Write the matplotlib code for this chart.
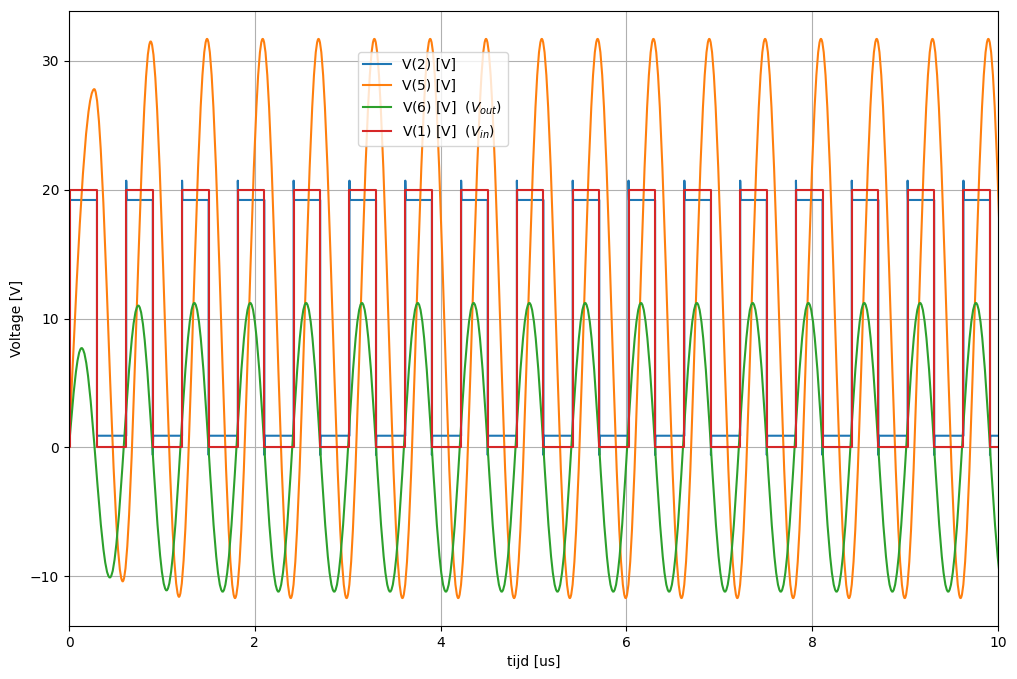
import numpy as np
import matplotlib.pyplot as plt
from matplotlib.path import Path
from matplotlib.patches import PathPatch
from matplotlib.lines import Line2D

# V(1) input pulse: switching times [us]
vin_rise = [0.015, 0.616, 1.217, 1.817, 2.418, 3.019, 3.620, 4.221, 4.821,
            5.422, 6.023, 6.624, 7.225, 7.825, 8.426, 9.027, 9.628]
vin_fall = [0.301, 0.902, 1.503, 2.103, 2.704, 3.305, 3.906, 4.507, 5.107,
            5.708, 6.309, 6.910, 7.511, 8.111, 8.712, 9.313, 9.914]
vin_low, vin_high = 0.0, 20.0

# V(2): plateau levels and switching over/undershoot [V]
v2_low, v2_high = 0.9, 19.2
v2_spike, v2_dip = 20.7, -0.6

# V(5): turning points (time [us], voltage [V])
v5_t = [0.0, 0.272, 0.578, 0.879, 1.184, 1.486, 1.787, 2.085, 2.387, 2.686,
        2.988, 3.287, 3.589, 3.888, 4.190, 4.489, 4.791, 5.089, 5.391, 5.690,
        5.992, 6.291, 6.593, 6.892, 7.194, 7.493, 7.795, 8.094, 8.396, 8.694,
        8.996, 9.295, 9.597, 9.896, 10.198]
v5_v = [0.0, 27.8, -10.4, 31.5, -11.6, 31.7, -11.7, 31.7, -11.7, 31.7,
        -11.7, 31.7, -11.7, 31.7, -11.7, 31.7, -11.7, 31.7, -11.7, 31.7,
        -11.7, 31.7, -11.7, 31.7, -11.7, 31.7, -11.7, 31.7, -11.7, 31.7,
        -11.7, 31.7, -11.7, 31.7, -11.7]

# V(6) = Vout: turning points (time [us], voltage [V])
v6_t = [0.0, 0.136, 0.440, 0.746, 1.050, 1.349, 1.654, 1.951, 2.254, 2.552,
        2.855, 3.153, 3.456, 3.754, 4.057, 4.355, 4.658, 4.955, 5.258, 5.556,
        5.859, 6.157, 6.460, 6.758, 7.061, 7.359, 7.662, 7.959, 8.262, 8.560,
        8.863, 9.161, 9.464, 9.762, 10.065]
v6_v = [0.0, 7.7, -10.1, 11.0, -11.1, 11.2, -11.2, 11.2, -11.2, 11.2,
        -11.2, 11.2, -11.2, 11.2, -11.2, 11.2, -11.2, 11.2, -11.2, 11.2,
        -11.2, 11.2, -11.2, 11.2, -11.2, 11.2, -11.2, 11.2, -11.2, 11.2,
        -11.2, 11.2, -11.2, 11.2, -11.2]

labels = ["V(2) [V]", "V(5) [V]", r"V(6) [V]  ($V_{out}$)", r"V(1) [V]  ($V_{in}$)"]
colors = ["C0", "C1", "C2", "C3"]


def smooth_path(t, v):
    """Bezier path through the turning points (flat tangent at each extremum)"""
    verts = [(t[0], v[0])]
    codes = [Path.MOVETO]
    for i in range(1, len(t)):
        x0, y0, x1, y1 = t[i-1], v[i-1], t[i], v[i]
        w = x1 - x0
        if i == 1:  # start of the transient, not an extremum
            c1 = (x0 + 0.334*w, y0 + 0.525*(y1 - y0))
            c2 = (x0 + 0.640*w, y1)
        else:
            c1 = (x0 + 0.3634*w, y0)
            c2 = (x1 - 0.3634*w, y1)
        verts += [c1, c2, (x1, y1)]
        codes += [Path.CURVE4]*3
    return Path(verts, codes)


# square wave V(1)
t1, y1 = [0.0], [vin_low]
for r, f in zip(vin_rise, vin_fall):
    t1 += [r, r, f, f]
    y1 += [vin_low, vin_high, vin_high, vin_low]
t1.append(10.0)
y1.append(vin_low)

# switching node V(2)
t2, y2 = [vin_rise[0]], [v2_high]
for i, (r, f) in enumerate(zip(vin_rise, vin_fall)):
    if i > 0:
        t2 += [r, r, r + 0.004]
        y2 += [v2_low, v2_spike, v2_high]
        t2 += [f, f, f + 0.004]
        y2 += [v2_high, v2_dip, v2_low]
    else:
        t2 += [f, f]
        y2 += [v2_high, v2_low]
t2.append(10.0)
y2.append(v2_low)

fig = plt.figure(figsize=(10.17, 6.79), dpi=100)
ax = fig.add_axes([69/1017, 1 - 626/679, 929/1017, 615/679])

ax.plot(t2, y2, color=colors[0], lw=1.5)
ax.add_patch(PathPatch(smooth_path(v5_t, v5_v), fill=False, edgecolor=colors[1], lw=1.5, zorder=2))
ax.add_patch(PathPatch(smooth_path(v6_t, v6_v), fill=False, edgecolor=colors[2], lw=1.5, zorder=2))
ax.plot(t1, y1, color=colors[3], lw=1.5)

ax.set_xlim(0, 10)
ax.set_ylim(-13.87, 33.87)
ax.set_xlabel("tijd [us]")
ax.set_ylabel("Voltage [V]")
ax.grid(True)

handles = [Line2D([], [], color=c, lw=1.5) for c in colors]
ax.legend(handles, labels, loc="upper left", bbox_to_anchor=(0.311, 0.933), borderaxespad=0)

fig.savefig("out.png", dpi=100)
